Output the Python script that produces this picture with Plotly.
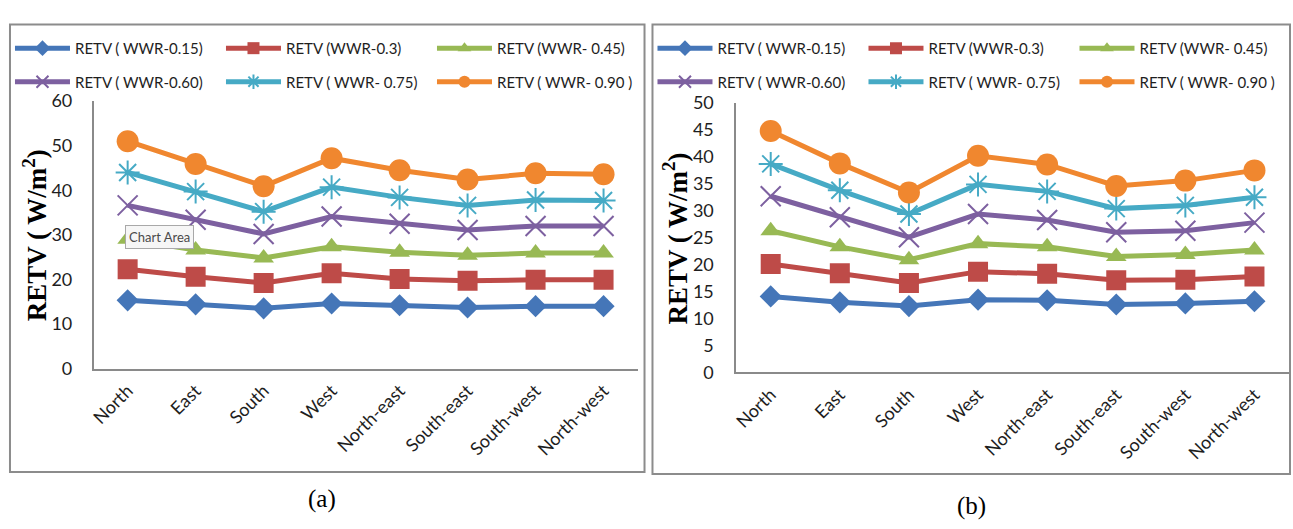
import plotly.graph_objects as go

W, H = 1293, 529

# Orientation categories on the x axis
directions = ["North", "East", "South", "West", "North-east", "South-east", "South-west", "North-west"]

# Panel (a): RETV (W/m2) for each window-to-wall ratio
a_wwr015 = [15.3, 14.4, 13.5, 14.6, 14.2, 13.7, 14.0, 14.0]
a_wwr030 = [22.3, 20.6, 19.2, 21.4, 20.1, 19.7, 19.9, 19.9]
a_wwr045 = [29.0, 26.6, 24.8, 27.3, 26.1, 25.4, 25.9, 25.9]
a_wwr060 = [36.6, 33.4, 30.2, 34.1, 32.5, 31.1, 32.0, 32.0]
a_wwr075 = [44.0, 39.7, 35.2, 40.7, 38.4, 36.6, 37.8, 37.7]
a_wwr090 = [51.0, 45.9, 40.9, 47.2, 44.5, 42.4, 43.8, 43.6]

# Panel (b): RETV (W/m2) for each window-to-wall ratio
b_wwr015 = [14.1, 13.0, 12.3, 13.5, 13.4, 12.6, 12.8, 13.2]
b_wwr030 = [20.1, 18.4, 16.6, 18.7, 18.3, 17.1, 17.2, 17.8]
b_wwr045 = [26.3, 23.3, 20.9, 23.9, 23.3, 21.5, 21.9, 22.7]
b_wwr060 = [32.7, 28.8, 25.1, 29.4, 28.3, 26.0, 26.3, 27.8]
b_wwr075 = [38.7, 33.8, 29.4, 34.9, 33.6, 30.4, 31.0, 32.5]
b_wwr090 = [44.8, 38.8, 33.4, 40.2, 38.6, 34.6, 35.6, 37.5]

series_names = ["RETV ( WWR-0.15)", "RETV (WWR-0.3)", "RETV (WWR- 0.45)",
                "RETV ( WWR-0.60)", "RETV ( WWR- 0.75)", "RETV ( WWR- 0.90 )"]

a_values = [a_wwr015, a_wwr030, a_wwr045, a_wwr060, a_wwr075, a_wwr090]
b_values = [b_wwr015, b_wwr030, b_wwr045, b_wwr060, b_wwr075, b_wwr090]

a_ticks = [0, 10, 20, 30, 40, 50, 60]
b_ticks = [0, 5, 10, 15, 20, 25, 30, 35, 40, 45, 50]

colors = ["#4576B8", "#BE4B48", "#98B954", "#7D60A0", "#46AAC5", "#F0872F"]
symbols = ["diamond", "square", "triangle-up", "x-thin-open", "asterisk-open", "circle"]
sizes = [17, 20, 18, 20, 20, 22]


def px(x):
    return x / W


def py(y):
    return 1 - y / H


fig = go.Figure()

panels = [
    ("x", "y", a_values, ["legend", "legend2"]),
    ("x2", "y2", b_values, ["legend3", "legend4"]),
]
for xa, ya, values, legends in panels:
    for i, (name, vals) in enumerate(zip(series_names, values)):
        open_sym = symbols[i].endswith("open")
        fig.add_trace(go.Scatter(
            x=directions, y=vals, name=name, mode="lines+markers",
            xaxis=xa, yaxis=ya,
            legend=legends[0] if i < 3 else legends[1],
            line=dict(color=colors[i], width=5),
            marker=dict(symbol=symbols[i], size=sizes[i], color=colors[i],
                        line=dict(color=colors[i], width=2 if open_sym else 0)),
        ))

tick_font = dict(family="Lato, Open Sans, sans-serif", size=18, color="#1e1e1e")
axis_common = dict(showgrid=False, zeroline=False, showline=True,
                   linecolor="#8a8a8a", linewidth=1.5, ticks="")

fig.update_layout(
    width=W, height=H,
    margin=dict(l=0, r=0, t=0, b=0),
    paper_bgcolor="white", plot_bgcolor="white",
    xaxis=dict(domain=[px(89), px(635)], anchor="y", range=[-0.5, 7.5],
               tickangle=-45, tickfont=tick_font, ticklabelstandoff=3, **axis_common),
    yaxis=dict(domain=[py(372), py(93)], anchor="x", range=[0, 60],
               tickvals=a_ticks, tickfont=tick_font, ticklabelstandoff=16, **axis_common),
    xaxis2=dict(domain=[px(734), px(1289)], anchor="y2", range=[-0.5, 7.5],
                tickangle=-45, tickfont=tick_font, ticklabelstandoff=3, **axis_common),
    yaxis2=dict(domain=[py(376), py(95)], anchor="x2", range=[0, 50],
                tickvals=b_ticks, tickfont=tick_font, ticklabelstandoff=17, **axis_common),
)

legend_font = dict(family="Lato, Open Sans, sans-serif", size=15, color="#1e1e1e")
legend_common = dict(orientation="h", xanchor="left", yanchor="middle",
                     bgcolor="rgba(0,0,0,0)", font=legend_font,
                     itemwidth=55, entrywidth=141, itemsizing="constant")
fig.update_layout(
    legend=dict(x=px(5), y=py(38), **legend_common),
    legend2=dict(x=px(5), y=py(73), **legend_common),
    legend3=dict(x=px(650), y=py(38), **legend_common),
    legend4=dict(x=px(650), y=py(73), **legend_common),
)

# Panel frames
for x0, y0, x1, y1 in [(5, 13, 642, 480), (650, 13, 1290, 482)]:
    fig.add_shape(type="rect", xref="paper", yref="paper",
                  x0=px(x0), y0=py(y1), x1=px(x1), y1=py(y0),
                  line=dict(color="#8c8c8c", width=2), fillcolor="rgba(0,0,0,0)")

title_font = dict(family="Liberation Serif, Times New Roman, serif", size=27, color="black")
for xc, yc in [(30, 233), (673, 236)]:
    fig.add_annotation(xref="paper", yref="paper", x=px(xc), y=py(yc),
                       text="<b>RETV ( W/m<sup>2</sup>)</b>", textangle=-90,
                       showarrow=False, font=title_font,
                       xanchor="center", yanchor="middle")

caption_font = dict(family="Liberation Serif, Times New Roman, serif", size=25, color="black")
fig.add_annotation(xref="paper", yref="paper", x=px(318), y=py(508), text="(a)",
                   showarrow=False, font=caption_font, xanchor="center", yanchor="middle")
fig.add_annotation(xref="paper", yref="paper", x=px(970), y=py(515), text="(b)",
                   showarrow=False, font=caption_font, xanchor="center", yanchor="middle")

# Hover tip left over the chart area
fig.add_annotation(xref="paper", yref="paper", x=px(155), y=py(235), text="Chart Area",
                   showarrow=False, font=dict(family="Lato, sans-serif", size=13, color="#4a4a4a"),
                   bgcolor="#f6f6f6", bordercolor="#a8a8a8", borderwidth=1, borderpad=3,
                   xanchor="center", yanchor="middle")

fig.write_html("out.html")
